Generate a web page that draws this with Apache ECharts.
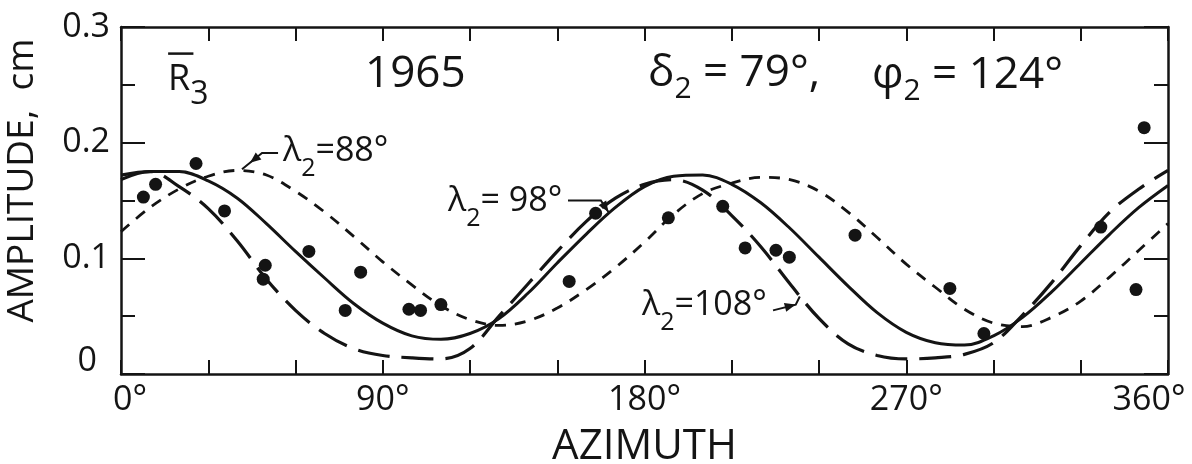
<!DOCTYPE html>
<html>
<head>
<meta charset="utf-8">
<script src="https://cdn.jsdelivr.net/npm/echarts@6/dist/echarts.min.js"></script>
<style>
  html, body { margin: 0; padding: 0; background: #ffffff; }
  #chart { width: 1192px; height: 464px; }
</style>
</head>
<body>
<div id="chart"></div>
<script>
// Labelled ticks
const azimuthLabels = [0, 90, 180, 270, 360];
const amplitudeLabels = [0, 0.1, 0.2, 0.3];

// Azimuths (deg) at which the three model curves are tabulated
const curveAzimuth = [0, 10, 20, 30, 40, 50, 60, 70, 80, 90, 100, 110, 120, 130, 140, 150, 160, 170, 180,
  190, 200, 210, 220, 230, 240, 250, 260, 270, 280, 290, 300, 310, 320, 330, 340, 350, 360];

// Model amplitude (cm), lambda2 = 98 deg (solid)
const ampLambda98 = [0.168, 0.175, 0.175, 0.167, 0.152, 0.130, 0.106, 0.083, 0.061, 0.044, 0.033, 0.030, 0.035,
  0.048, 0.070, 0.096, 0.121, 0.144, 0.162, 0.171, 0.172, 0.164, 0.148, 0.126, 0.101, 0.076, 0.053, 0.036,
  0.027, 0.025, 0.033, 0.049, 0.071, 0.096, 0.121, 0.144, 0.163];

// Model amplitude (cm), lambda2 = 88 deg (short dashes)
const ampLambda88 = [0.123, 0.144, 0.160, 0.171, 0.176, 0.172, 0.158, 0.140, 0.119, 0.097, 0.077, 0.059, 0.047,
  0.042, 0.046, 0.057, 0.073, 0.092, 0.114, 0.138, 0.156, 0.165, 0.170, 0.168, 0.158, 0.140, 0.118, 0.095,
  0.075, 0.056, 0.044, 0.041, 0.049, 0.063, 0.084, 0.107, 0.130];

// Model amplitude (cm), lambda2 = 108 deg (long dashes)
const ampLambda108 = [0.172, 0.175, 0.162, 0.143, 0.115, 0.082, 0.055, 0.035, 0.022, 0.016, 0.014, 0.013, 0.022,
  0.050, 0.078, 0.106, 0.132, 0.152, 0.164, 0.168, 0.159, 0.137, 0.110, 0.078, 0.048, 0.026, 0.016, 0.013,
  0.014, 0.017, 0.027, 0.051, 0.079, 0.111, 0.140, 0.160, 0.176];

// Observed amplitudes, 1965
const obsAzimuth = [7.7, 11.9, 25.8, 35.6, 48.9, 49.6, 64.6, 77.1, 82.4, 99.0, 103.0, 110.0, 154.1, 163.2,
  188.2, 206.9, 214.6, 225.2, 229.8, 252.4, 285.0, 296.7, 336.9, 349.0, 351.8];
const obsAmplitude = [0.153, 0.164, 0.182, 0.141, 0.082, 0.094, 0.106, 0.055, 0.088, 0.056, 0.055, 0.060,
  0.080, 0.139, 0.135, 0.145, 0.109, 0.107, 0.101, 0.120, 0.074, 0.035, 0.127, 0.073, 0.213];

const FONT = '"Open Sans", "DejaVu Sans", sans-serif';
const INK = '#141414';

const pairs = (xs, ys) => xs.map((x, i) => [x, ys[i]]);

const chart = echarts.init(document.getElementById('chart'), null, { renderer: 'canvas' });

// frame lines stay on the grid edges, not on the zero of the other axis
const frameLine = { show: true, onZero: false, lineStyle: { color: INK, width: 2.5 } };
const xTicks = { show: true, inside: true, length: 14, lineStyle: { color: INK, width: 2 } };
const yTicks = { show: true, inside: true, length: 24, lineStyle: { color: INK, width: 2 } };
const yMinor = { show: true, splitNumber: 2, length: 14, lineStyle: { color: INK, width: 2 } };

function curve(name, values, dash, width) {
  return {
    name: name,
    type: 'line',
    xAxisIndex: 0,
    yAxisIndex: 0,
    data: pairs(curveAzimuth, values),
    smooth: 0.35,
    showSymbol: false,
    symbol: 'none',
    lineStyle: { color: INK, width: width, type: dash, cap: 'butt' },
    z: 3
  };
}

chart.setOption({
  animation: false,
  backgroundColor: '#ffffff',
  grid: { left: 121, right: 24, top: 27, bottom: 90, containLabel: false, outerBoundsMode: 'none' },
  xAxis: [
    {
      type: 'value', position: 'bottom', min: 0, max: 360, interval: 30,
      axisLine: frameLine, axisTick: xTicks, splitLine: { show: false },
      axisLabel: {
        margin: 9, fontSize: 34, fontFamily: FONT, color: INK,
        formatter: function (v) {
          if (azimuthLabels.indexOf(v) < 0) return '';
          if (v === azimuthLabels[0]) return '{first|' + v + '°}';
          if (v === azimuthLabels[azimuthLabels.length - 1]) return '{last|' + v + '°}';
          return v + '°';
        },
        rich: {
          first: { fontSize: 34, fontFamily: FONT, color: INK, padding: [0, 0, 0, 18] },
          last: { fontSize: 34, fontFamily: FONT, color: INK, padding: [0, 38, 0, 0] }
        }
      },
      name: 'AZIMUTH', nameLocation: 'middle', nameGap: 52,
      nameTextStyle: { fontSize: 42, fontFamily: FONT, color: INK }
    },
    {
      type: 'value', position: 'top', min: 0, max: 360, interval: 30,
      axisLine: frameLine, axisTick: xTicks, splitLine: { show: false }, axisLabel: { show: false }
    }
  ],
  yAxis: [
    {
      type: 'value', position: 'left', min: 0, max: 0.3, interval: 0.1,
      axisLine: frameLine, axisTick: yTicks, minorTick: yMinor,
      splitLine: { show: false }, minorSplitLine: { show: false },
      axisLabel: {
        margin: 11, fontSize: 34, fontFamily: FONT, color: INK,
        formatter: function (v) {
          const r = Math.round(v * 10) / 10;
          if (amplitudeLabels.indexOf(r) < 0) return '';
          return r === 0 ? '{zero|0}' : r.toFixed(1);
        },
        rich: { zero: { fontSize: 34, fontFamily: FONT, color: INK, padding: [0, 13, 26, 0] } }
      },
      name: 'AMPLITUDE,  cm', nameLocation: 'middle', nameGap: 80, nameRotate: 90,
      nameTextStyle: { fontSize: 37, fontFamily: FONT, color: INK, padding: [0, 0, 0, 40] }
    },
    {
      type: 'value', position: 'right', min: 0, max: 0.3, interval: 0.1,
      axisLine: frameLine, axisTick: yTicks, minorTick: yMinor,
      splitLine: { show: false }, minorSplitLine: { show: false }, axisLabel: { show: false }
    }
  ],
  series: [
    curve('λ2=98°', ampLambda98, 'solid', 3),
    curve('λ2=88°', ampLambda88, [11, 9], 2.8),
    curve('λ2=108°', ampLambda108, [32, 12], 3.2),
    {
      name: '1965',
      type: 'scatter',
      xAxisIndex: 0,
      yAxisIndex: 0,
      data: pairs(obsAzimuth, obsAmplitude),
      symbol: 'circle',
      symbolSize: 13,
      itemStyle: { color: INK, opacity: 1 },
      z: 4
    }
  ]
});

// ---- annotations: titles, parameter text and the curve pointers ----
const toPx = (p) => chart.convertToPixel({ xAxisIndex: 0, yAxisIndex: 0 }, p);

function subRich(fs, subFs, drop) {
  return {
    m: { fontSize: fs, lineHeight: fs, fontFamily: FONT, fill: INK, verticalAlign: 'top' },
    s: { fontSize: subFs, lineHeight: subFs, fontFamily: FONT, fill: INK, verticalAlign: 'top', padding: [drop, 0, 0, 0] }
  };
}

function richText(x, yCenter, fs, subFs, drop, text) {
  return {
    type: 'text', x: x, y: yCenter - fs / 2, silent: true, z: 10,
    style: { text: text, rich: subRich(fs, subFs, drop), align: 'left', verticalAlign: 'top' }
  };
}

function arrowHead(from, tip, len, half) {
  const dx = tip[0] - from[0], dy = tip[1] - from[1];
  const d = Math.hypot(dx, dy);
  const ux = dx / d, uy = dy / d;
  const bx = tip[0] - ux * len, by = tip[1] - uy * len;
  return {
    type: 'polygon', silent: true, z: 10,
    shape: { points: [[tip[0], tip[1]], [bx - uy * half, by + ux * half], [bx + uy * half, by - ux * half]] },
    style: { fill: INK }
  };
}

function pointer(dataPts, arrowAt) {
  const pts = dataPts.map(toPx);
  const els = [{
    type: 'polyline', silent: true, z: 10,
    shape: { points: pts },
    style: { stroke: INK, lineWidth: 2, fill: null }
  }];
  const a = pts[arrowAt[0]], b = pts[arrowAt[1]];
  const tip = [a[0] + (b[0] - a[0]) * arrowAt[2], a[1] + (b[1] - a[1]) * arrowAt[2]];
  els.push(arrowHead(a, tip, 11, 4.5));
  return els;
}

const barL = toPx([16.2, 0.277]), barR = toPx([24.9, 0.277]);

const graphics = [
  // R-bar sub 3 tag
  richText(168, 80, 36, 32, 17, '{m|R}{s|3}'),
  { type: 'line', silent: true, z: 10, shape: { x1: barL[0], y1: barL[1], x2: barR[0], y2: barR[1] },
    style: { stroke: INK, lineWidth: 2.5 } },
  richText(365, 74, 44, 30, 23, '{m|1965}'),
  richText(648, 73, 44, 30, 23, '{m|δ}{s|2}{m| = 79°,}'),
  richText(872, 75, 44, 30, 23, '{m|φ}{s|2}{m| = 124°}'),
  richText(283, 151, 34, 25, 22, '{m|λ}{s|2}{m|=88°}'),
  richText(448, 201, 34, 25, 22, '{m|λ}{s|2}{m|= 98°}'),
  richText(642, 305, 34, 25, 22, '{m|λ}{s|2}{m|=108°}')
]
  .concat(pointer([[54.0, 0.191], [48.5, 0.191], [41.6, 0.177]], [1, 2, 0.6]))
  .concat(pointer([[153.7, 0.150], [165.0, 0.150], [167.6, 0.140]], [1, 2, 1.0]))
  .concat(pointer([[224.2, 0.055], [232.0, 0.060], [233.4, 0.067]], [0, 1, 1.0]));

chart.setOption({ graphic: graphics });
</script>
</body>
</html>
